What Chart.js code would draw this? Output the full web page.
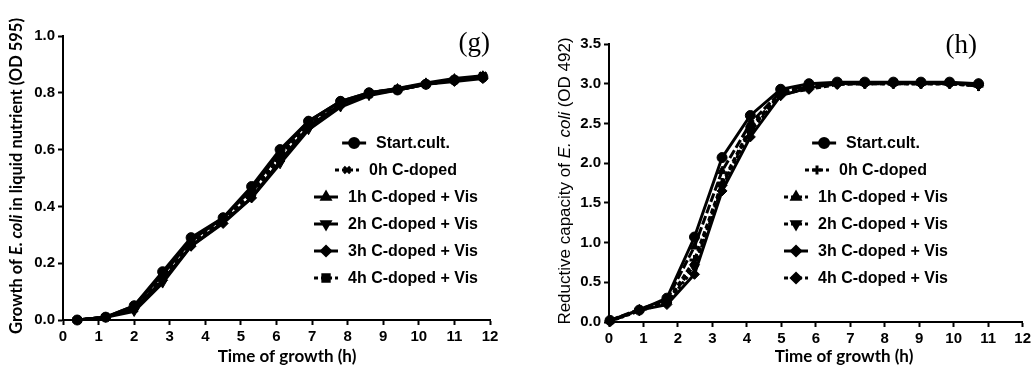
<!DOCTYPE html>
<html>
<head>
<meta charset="utf-8">
<script src="https://cdn.jsdelivr.net/npm/chart.js@4.4.1/dist/chart.umd.min.js"></script>
<style>
  html, body { margin: 0; padding: 0; background: #fff; }
  #wrap { position: relative; width: 1034px; height: 370px; }
  .panel { position: absolute; top: 0; width: 517px; height: 370px; }
  #panel-g { left: 0; }
  #panel-h { left: 517px; }
</style>
</head>
<body>
<div id="wrap">
  <div class="panel" id="panel-g"><canvas id="chartG" width="517" height="370"></canvas></div>
  <div class="panel" id="panel-h"><canvas id="chartH" width="517" height="370"></canvas></div>
</div>
<script>
(() => {
  'use strict';

  // ── Data ───────────────────────────────────────────────────────────────────

  const SERIES_NAMES = ['Start.cult.', '0h C-doped', '1h C-doped + Vis',
                        '2h C-doped + Vis', '3h C-doped + Vis', '4h C-doped + Vis'];

  // (g) growth, OD 595
  const TIME_G = [0.4, 1.2, 2.0, 2.8, 3.6, 4.5, 5.3, 6.1, 6.9, 7.8, 8.6, 9.4, 10.2, 11.0, 11.8];
  const G_START = [0.00, 0.01, 0.05, 0.17, 0.29, 0.36, 0.47, 0.60, 0.70, 0.77, 0.80, 0.81, 0.83, 0.845, 0.855];
  const G_0H    = [0.00, 0.01, 0.04, 0.15, 0.27, 0.35, 0.45, 0.58, 0.69, 0.76, 0.795, 0.81, 0.83, 0.845, 0.86];
  const G_1H    = [0.00, 0.01, 0.05, 0.16, 0.28, 0.36, 0.46, 0.59, 0.70, 0.77, 0.80, 0.815, 0.835, 0.85, 0.86];
  const G_2H    = [0.00, 0.01, 0.03, 0.13, 0.26, 0.345, 0.43, 0.55, 0.67, 0.75, 0.79, 0.81, 0.83, 0.845, 0.855];
  const G_3H    = [0.00, 0.01, 0.04, 0.14, 0.26, 0.34, 0.43, 0.56, 0.68, 0.76, 0.795, 0.81, 0.83, 0.84, 0.85];
  const G_4H    = [0.00, 0.01, 0.04, 0.15, 0.27, 0.35, 0.44, 0.57, 0.69, 0.76, 0.80, 0.815, 0.83, 0.845, 0.86];

  // (h) reductive capacity, OD 492
  const TIME_H = [0.03, 0.88, 1.68, 2.48, 3.28, 4.1, 4.98, 5.8, 6.62, 7.42, 8.25, 9.05, 9.88, 10.72];
  const H_START = [0.02, 0.15, 0.30, 1.07, 2.07, 2.60, 2.93, 3.00, 3.02, 3.02, 3.02, 3.02, 3.02, 3.00];
  const H_0H    = [0.01, 0.15, 0.25, 0.78, 1.75, 2.45, 2.88, 2.97, 3.00, 3.00, 3.00, 3.00, 3.00, 2.97];
  const H_1H    = [0.02, 0.16, 0.28, 0.95, 1.90, 2.50, 2.90, 2.98, 3.01, 3.01, 3.01, 3.01, 3.01, 2.99];
  const H_2H    = [0.01, 0.14, 0.24, 0.68, 1.70, 2.40, 2.85, 2.96, 3.00, 3.00, 3.00, 3.00, 3.00, 2.97];
  const H_3H    = [0.02, 0.15, 0.22, 0.60, 1.65, 2.33, 2.85, 2.95, 3.00, 3.01, 3.01, 3.01, 3.00, 3.00];
  const H_4H    = [0.01, 0.15, 0.24, 0.72, 1.72, 2.42, 2.87, 2.93, 2.99, 3.00, 3.00, 3.00, 3.00, 2.98];

  const X_TITLE   = 'Time of growth (h)';
  const Y_TITLE_G = [['Growth of ', false], ['E. coli', true], [' in liquid nutrient (OD 595)', false]];
  const Y_TITLE_H = [['Reductive capacity of ', false], ['E. coli', true], [' (OD 492)', false]];

  // ── Styles ────────────────────────────────────────────────────────────────

  const TICK_FONT = { family: '"Liberation Sans", Arial, sans-serif', size: 15, weight: 'bold' };
  const LEGEND_FONT = 'bold 16px "Liberation Sans", Arial, sans-serif';

  const STYLE_G = [
    { pointStyle: 'circle',   rotation: 0,   dash: [] },
    { pointStyle: 'crossRot', rotation: 0,   dash: [5, 3] },
    { pointStyle: 'triangle', rotation: 0,   dash: [] },
    { pointStyle: 'triangle', rotation: 180, dash: [] },
    { pointStyle: 'rectRot',  rotation: 0,   dash: [] },
    { pointStyle: 'rect',     rotation: 0,   dash: [5, 3] },
  ];
  const STYLE_H = [
    { pointStyle: 'circle',   rotation: 0,   dash: [] },
    { pointStyle: 'cross',    rotation: 0,   dash: [5, 3] },
    { pointStyle: 'triangle', rotation: 0,   dash: [9, 3] },
    { pointStyle: 'triangle', rotation: 180, dash: [3, 3] },
    { pointStyle: 'rectRot',  rotation: 0,   dash: [] },
    { pointStyle: 'rectRot',  rotation: 0,   dash: [5, 3] },
  ];

  function makeDatasets(times, seriesList, styles) {
    return seriesList.map((vals, i) => ({
      label: SERIES_NAMES[i],
      data: vals.map((v, j) => ({ x: times[j], y: v })),
      borderColor: '#000',
      backgroundColor: '#000',
      borderWidth: 3,
      borderDash: styles[i].dash,
      pointStyle: styles[i].pointStyle,
      pointRotation: styles[i].rotation,
      pointRadius: styles[i].pointStyle === 'rect' ? 4.5 : 5,
      pointBorderWidth: styles[i].pointStyle.startsWith('cross') ? 3 : 1,
      pointBackgroundColor: '#000',
      pointBorderColor: '#000',
      tension: 0,
      clip: false,
    }));
  }

  // ── Decorations: titles, legend, panel letter ─────────────────────────────

  const decor = {
    id: 'decor',
    afterDraw(chart, args, opts) {
      const ctx = chart.ctx;
      ctx.save();
      ctx.fillStyle = '#000';
      ctx.strokeStyle = '#000';

      // x-axis title
      ctx.font = opts.xTitleFont;
      ctx.textAlign = 'center';
      ctx.textBaseline = 'middle';
      ctx.fillText(X_TITLE, opts.xTitleX, opts.xTitleY);

      // y-axis title, rotated, with italic species name
      const pieces = opts.yTitle.map(([t, it]) => {
        ctx.font = (it ? 'italic ' : '') + opts.yTitleFont;
        return { t, it, w: ctx.measureText(t).width };
      });
      const total = pieces.reduce((a, p) => a + p.w, 0);
      ctx.save();
      ctx.translate(opts.yTitleX, opts.yTitleY);
      ctx.rotate(-Math.PI / 2);
      ctx.textAlign = 'left';
      let px = -total / 2;
      pieces.forEach(p => {
        ctx.font = (p.it ? 'italic ' : '') + opts.yTitleFont;
        ctx.fillText(p.t, px, 0);
        px += p.w;
      });
      ctx.restore();

      // panel letter
      ctx.font = '27px "Liberation Serif", "Times New Roman", serif';
      ctx.textAlign = 'right';
      ctx.textBaseline = 'alphabetic';
      ctx.fillText(opts.letter, opts.letterX, opts.letterY);

      // legend
      ctx.font = LEGEND_FONT;
      ctx.textAlign = 'left';
      ctx.textBaseline = 'middle';
      const symW = 24, gap = 10;
      chart.data.datasets.forEach((ds, i) => {
        const y = opts.legendTop + i * opts.legendStep;
        ctx.font = LEGEND_FONT;
        const tw = ctx.measureText(ds.label).width;
        const x0 = opts.legendCenter - (symW + gap + tw) / 2;
        ctx.lineWidth = 3;
        ctx.setLineDash(ds.borderDash.length ? [4, 3] : []);
        ctx.beginPath();
        ctx.moveTo(x0, y);
        ctx.lineTo(x0 + symW, y);
        ctx.stroke();
        ctx.setLineDash([]);
        Chart.helpers.drawPoint(ctx, {
          pointStyle: ds.pointStyle,
          rotation: ds.pointRotation,
          radius: 4.5,
          borderWidth: ds.pointBorderWidth,
        }, x0 + symW / 2, y);
        ctx.fillText(ds.label, x0 + symW + gap, y + 1);
      });
      ctx.restore();
    },
  };

  function axisOptions(xMax, yMax, yStep, yWidth, xHeight) {
    return {
      x: {
        type: 'linear', min: 0, max: xMax,
        afterFit: s => { s.height = xHeight; },
        ticks: { stepSize: 1, color: '#000', font: TICK_FONT, padding: 3 },
        grid: { drawOnChartArea: false, tickLength: 5, tickColor: '#000', tickWidth: 2 },
        border: { color: '#000', width: 2 },
      },
      y: {
        min: 0, max: yMax,
        afterFit: s => { s.width = yWidth; },
        ticks: { stepSize: yStep, color: '#000', font: TICK_FONT, padding: 3,
                 callback: v => v.toFixed(1) },
        grid: { drawOnChartArea: false, tickLength: 5, tickColor: '#000', tickWidth: 2 },
        border: { color: '#000', width: 2 },
      },
    };
  }

  function build(id, datasets, scales, padding, decorOpts) {
    return new Chart(document.getElementById(id), {
      type: 'line',
      data: { datasets },
      options: {
        responsive: false,
        animation: false,
        layout: { padding },
        scales,
        plugins: { legend: { display: false }, tooltip: { enabled: false }, decor: decorOpts },
      },
      plugins: [decor],
    });
  }

  build('chartG',
    makeDatasets(TIME_G, [G_START, G_0H, G_1H, G_2H, G_3H, G_4H], STYLE_G),
    axisOptions(12, 1.0, 0.2, 63, 50),
    { left: 0, top: 36, right: 27, bottom: 0 },
    {
      xTitleFont: 'bold 17px Lato, "Open Sans", sans-serif', xTitleX: 287, xTitleY: 357,
      yTitle: Y_TITLE_G, yTitleFont: 'bold 16.5px Lato, "Open Sans", sans-serif', yTitleX: 17, yTitleY: 176,
      letter: '(g)', letterX: 490, letterY: 51,
      legendCenter: 396, legendTop: 143, legendStep: 27,
    });

  build('chartH',
    makeDatasets(TIME_H, [H_START, H_0H, H_1H, H_2H, H_3H, H_4H], STYLE_H),
    axisOptions(12, 3.5, 0.5, 92, 48),
    { left: 0, top: 44, right: 8, bottom: 0 },
    {
      xTitleFont: 'bold 17px Lato, "Open Sans", sans-serif', xTitleX: 327, xTitleY: 357,
      yTitle: Y_TITLE_H, yTitleFont: '17px "Liberation Sans", Arial, sans-serif', yTitleX: 48, yTitleY: 181,
      letter: '(h)', letterX: 460, letterY: 53,
      legendCenter: 349, legendTop: 143, legendStep: 27,
    });
})();
</script>
</body>
</html>
